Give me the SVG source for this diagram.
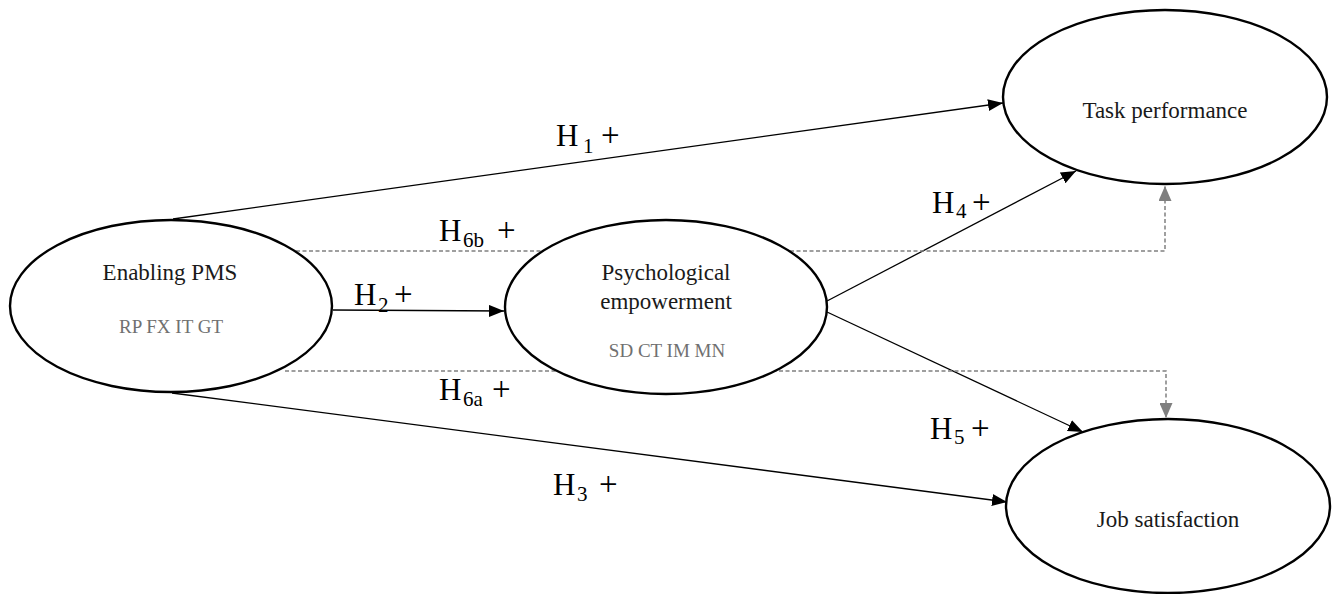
<svg xmlns="http://www.w3.org/2000/svg" width="1333" height="594" viewBox="0 0 1333 594">
<style>
.node ellipse{fill:#fff;stroke:#000;stroke-width:2.4}
.serif{font-family:'Liberation Serif','DejaVu Serif','Times New Roman',serif}
.title{font-size:23px;fill:#1a1a1a;text-anchor:middle}
.ind{font-size:19px;fill:#707070;text-anchor:middle}
.solid{fill:none;stroke:#000;stroke-width:1.3}
.dash{fill:none;stroke:#808080;stroke-width:1.5;stroke-dasharray:4 2.5}
.h{font-size:31px;fill:#000}
.sub{font-size:21px}
.plus{font-size:33px}
</style>
<defs>
<marker id="ab" markerUnits="userSpaceOnUse" markerWidth="16" markerHeight="12" refX="15" refY="6" orient="auto">
<path d="M0,0 L15,6 L0,12 z" fill="#000"/>
</marker>
<marker id="ag" markerUnits="userSpaceOnUse" markerWidth="16" markerHeight="13" refX="15" refY="6.5" orient="auto">
<path d="M0,0 L15,6.5 L0,13 z" fill="#7f7f7f"/>
</marker>
</defs>
<rect width="1333" height="594" fill="#fff"/>
<g id="connectors">
<path class="solid" d="M173,219 L1003,103" marker-end="url(#ab)"/>
<path class="solid" d="M172,393 L1007,502" marker-end="url(#ab)"/>
<path class="solid" d="M333,310 L504,311" marker-end="url(#ab)"/>
<path class="solid" d="M827,301 L1076,171" marker-end="url(#ab)"/>
<path class="solid" d="M827,312 L1083,432" marker-end="url(#ab)"/>
<path class="dash" d="M296,251 H1165 V186" marker-end="url(#ag)"/>
<path class="dash" d="M285,371 H1166 V418" marker-end="url(#ag)"/>
</g>
<g id="node-enabling" class="node">
<ellipse cx="171" cy="306" rx="161" ry="86"/>
<text class="serif title" x="170" y="280">Enabling PMS</text>
<text class="serif ind" x="171" y="333">RP FX IT GT</text>
</g>
<g id="node-psych" class="node">
<ellipse cx="666" cy="307" rx="161" ry="87"/>
<text class="serif title" x="666" y="280">Psychological</text>
<text class="serif title" x="666" y="309">empowerment</text>
<text class="serif ind" x="667" y="357">SD CT IM MN</text>
</g>
<g id="node-task" class="node">
<ellipse cx="1165" cy="97" rx="162" ry="87"/>
<text class="serif title" x="1165" y="118">Task performance</text>
</g>
<g id="node-job" class="node">
<ellipse cx="1168" cy="506" rx="162" ry="87"/>
<text class="serif title" x="1168" y="527">Job satisfaction</text>
</g>
<g id="labels" class="serif">
<text class="h" x="556" y="146">H<tspan class="sub" x="583" y="153">1</tspan><tspan class="plus" x="601" y="146">+</tspan></text>
<text class="h" x="439" y="241">H<tspan class="sub" x="463" y="247">6b</tspan><tspan class="plus" x="497" y="241">+</tspan></text>
<text class="h" x="354" y="305">H<tspan class="sub" x="378" y="312">2</tspan><tspan class="plus" x="394" y="305">+</tspan></text>
<text class="h" x="439" y="400">H<tspan class="sub" x="463" y="406">6a</tspan><tspan class="plus" x="492" y="400">+</tspan></text>
<text class="h" x="932" y="213">H<tspan class="sub" x="956" y="218">4</tspan><tspan class="plus" x="972" y="213">+</tspan></text>
<text class="h" x="930" y="439">H<tspan class="sub" x="954" y="444">5</tspan><tspan class="plus" x="971" y="439">+</tspan></text>
<text class="h" x="553" y="495">H<tspan class="sub" x="577" y="501">3</tspan><tspan class="plus" x="599" y="495">+</tspan></text>
</g>
</svg>
